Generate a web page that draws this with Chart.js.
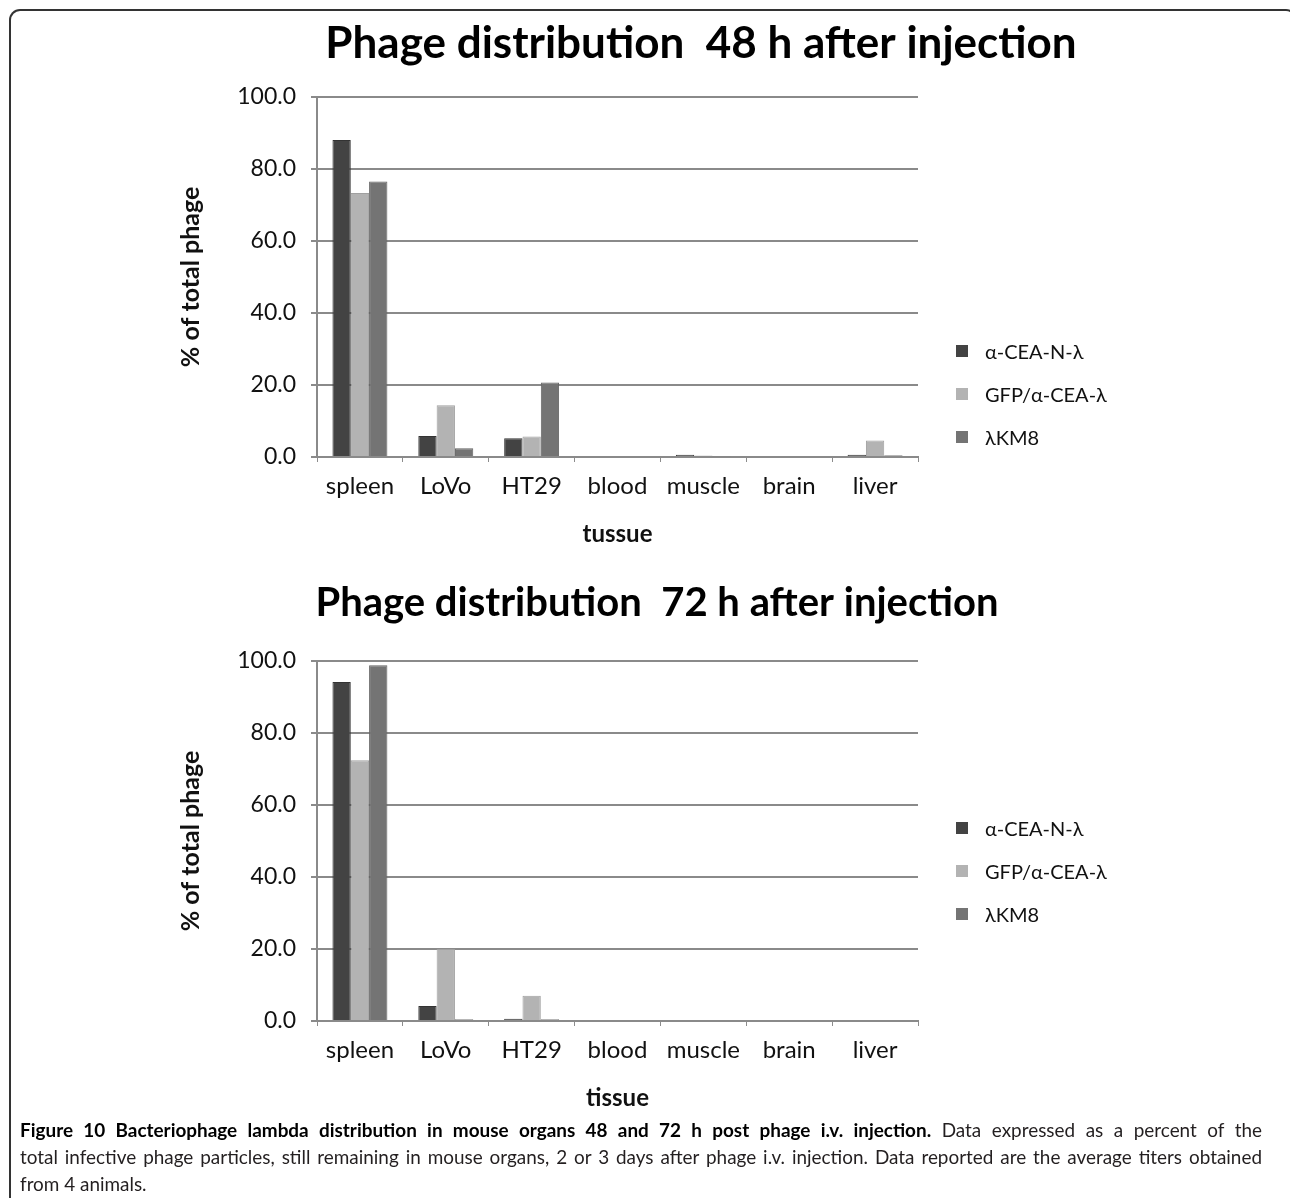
<!DOCTYPE html>
<html>
<head>
<meta charset="utf-8">
<title>Phage distribution</title>
<script src="https://cdn.jsdelivr.net/npm/chart.js@4.4.1/dist/chart.umd.min.js"></script>
<style>
    body { margin: 0; background: #fff; width: 1290px; height: 1198px; position: relative; overflow: hidden; font-family: Lato, sans-serif; }
    .frame { position: absolute; left: 9px; top: 9px; width: 1284px; height: 1300px; border-left: 2px solid #333; border-top: 2px solid #333; border-right: 2px solid #333; border-radius: 11px 11px 0 0; }
    .chart-box { position: absolute; left: 0; width: 1290px; height: 564px; }
    .legend { position: absolute; left: 956px; font-size: 20px; color: #111; }
    .legend .item { height: 43px; display: flex; align-items: center; }
    .legend .sw { width: 12px; height: 12px; margin-right: 17px; }
    .caption { position: absolute; left: 20px; top: 1116px; font-size: 19px; line-height: 27px; color: #231f20; }
    .caption .line { width: 1242px; white-space: nowrap; }
    .caption .just { text-align: justify; text-align-last: justify; }
    .caption b { color: #000; }
</style>
</head>
<body>
<div class="frame"></div>
<div class="chart-box" style="top:0"><canvas id="chart48"></canvas></div>
<div class="chart-box" style="top:564px"><canvas id="chart72"></canvas></div>
<div class="legend" id="legend48" style="top:329px"></div>
<div class="legend" id="legend72" style="top:806px"></div>
<div class="caption" id="caption">
    <div class="line just"><b>Figure 10 Bacteriophage lambda distribution in mouse organs 48 and 72 h post phage i.v. injection.</b> Data expressed as a percent of the</div>
    <div class="line just">total infective phage particles, still remaining in mouse organs, 2 or 3 days after phage i.v. injection. Data reported are the average titers obtained</div>
    <div class="line">from 4 animals.</div>
</div>
<script>
// tissues on the x axis
const tissues = ['spleen', 'LoVo', 'HT29', 'blood', 'muscle', 'brain', 'liver'];

// phage constructs
const seriesNames = ['α-CEA-N-λ', 'GFP/α-CEA-λ', 'λKM8'];
const seriesColors = ['#434343', '#b3b3b3', '#747474'];
const seriesBorders = ['#333333', '#a0a0a0', '#626262'];

// y axis ticks (% of total phage)
const yTicks = [0, 20, 40, 60, 80, 100];

// 48 h after injection
const cea48 = [88.0, 5.8, 5.2, 0, 0.6, 0, 0.6];
const gfp48 = [73.3, 14.4, 5.7, 0, 0.4, 0, 4.6];
const km848 = [76.5, 2.4, 20.7, 0, 0.2, 0, 0.5];

// 72 h after injection
const cea72 = [94.2, 4.2, 0.6, 0, 0, 0, 0];
const gfp72 = [72.4, 20.0, 7.0, 0, 0, 0, 0];
const km872 = [98.8, 0.5, 0.5, 0, 0, 0, 0];

const FONT = 'Lato';

/**
 * Build one grouped bar chart
 */
function makeChart(canvasId, title, titleSize, titlePad, rightPad, xTitle, values) {
    const ctx = document.getElementById(canvasId).getContext('2d');

    const datasets = values.map((data, i) => ({
        label: seriesNames[i],
        data: data,
        backgroundColor: seriesColors[i],
        borderColor: seriesBorders[i],
        borderWidth: 1,
        barPercentage: 1.0,
        categoryPercentage: 0.64
    }));

    return new Chart(ctx, {
        type: 'bar',
        data: { labels: tissues, datasets: datasets },
        options: {
            responsive: true,
            maintainAspectRatio: false,
            animation: false,
            layout: { padding: { left: 174, right: rightPad, top: 3, bottom: 0 } },
            plugins: {
                legend: { display: false },
                tooltip: { enabled: false },
                title: {
                    display: true,
                    text: title,
                    color: '#000',
                    font: { family: FONT, size: titleSize, weight: 'bold' },
                    padding: titlePad
                }
            },
            scales: {
                x: {
                    grid: { display: true, drawOnChartArea: false, drawTicks: true, tickLength: 5, color: '#8c8c8c', lineWidth: 1, offset: true },
                    border: { display: true, color: '#8a8a8a', width: 2 },
                    ticks: { color: '#111', font: { family: FONT, size: 24 }, padding: 10, maxRotation: 0 },
                    title: {
                        display: true,
                        text: xTitle,
                        color: '#111',
                        font: { family: FONT, size: 24, weight: 'bold' },
                        padding: { top: 0, bottom: 15 }
                    },
                    afterFit: function(scale) { scale.height = 107; }
                },
                y: {
                    min: 0,
                    max: 100,
                    afterBuildTicks: function(scale) {
                        scale.ticks = yTicks.map(v => ({ value: v }));
                    },
                    ticks: {
                        color: '#111',
                        font: { family: FONT, size: 23 },
                        padding: 15,
                        callback: function(value) { return value.toFixed(1); }
                    },
                    grid: { color: '#8a8a8a', lineWidth: 2, tickLength: 6 },
                    border: { display: true, color: '#8a8a8a', width: 2 },
                    title: {
                        display: true,
                        text: '% of total phage',
                        color: '#111',
                        font: { family: FONT, size: 25, weight: 'bold' },
                        padding: { top: 2, bottom: 0 }
                    },
                    afterFit: function(scale) { scale.width = 143; }
                },
                // empty right-side space reserved for the legend
                spacer: {
                    type: 'linear',
                    position: 'right',
                    display: true,
                    grid: { display: false },
                    border: { display: false },
                    ticks: { display: false },
                    afterFit: function(scale) { scale.width = 1290 - rightPad - 918; }
                }
            }
        }
    });
}

/**
 * Render an HTML legend for a chart
 */
function renderLegend(containerId) {
    const container = document.getElementById(containerId);
    container.innerHTML = seriesNames.map((name, i) => `
        <div class="item"><span class="sw" style="background:${seriesColors[i]}"></span><span>${name}</span></div>
    `).join('');
}

/**
 * Scale caption font so the justified lines fill the column
 */
function fitCaption() {
    const caption = document.getElementById('caption');
    const lines = caption.querySelectorAll('.just');
    let size = 19;
    lines.forEach(line => {
        const probe = document.createElement('span');
        probe.style.whiteSpace = 'nowrap';
        probe.innerHTML = line.innerHTML;
        line.innerHTML = '';
        line.appendChild(probe);
        const w = probe.getBoundingClientRect().width;
        size = Math.min(size, 19 * 1236 / w);
        line.innerHTML = probe.innerHTML;
    });
    caption.style.fontSize = size.toFixed(2) + 'px';
}

makeChart('chart48', 'Phage distribution  48 h after injection', 44, { top: 14, bottom: 27 }, 62, 'tussue', [cea48, gfp48, km848]);
makeChart('chart72', 'Phage distribution  72 h after injection', 40, { top: 12, bottom: 34 }, 150, 'tissue', [cea72, gfp72, km872]);
renderLegend('legend48');
renderLegend('legend72');
fitCaption();
</script>
</body>
</html>
